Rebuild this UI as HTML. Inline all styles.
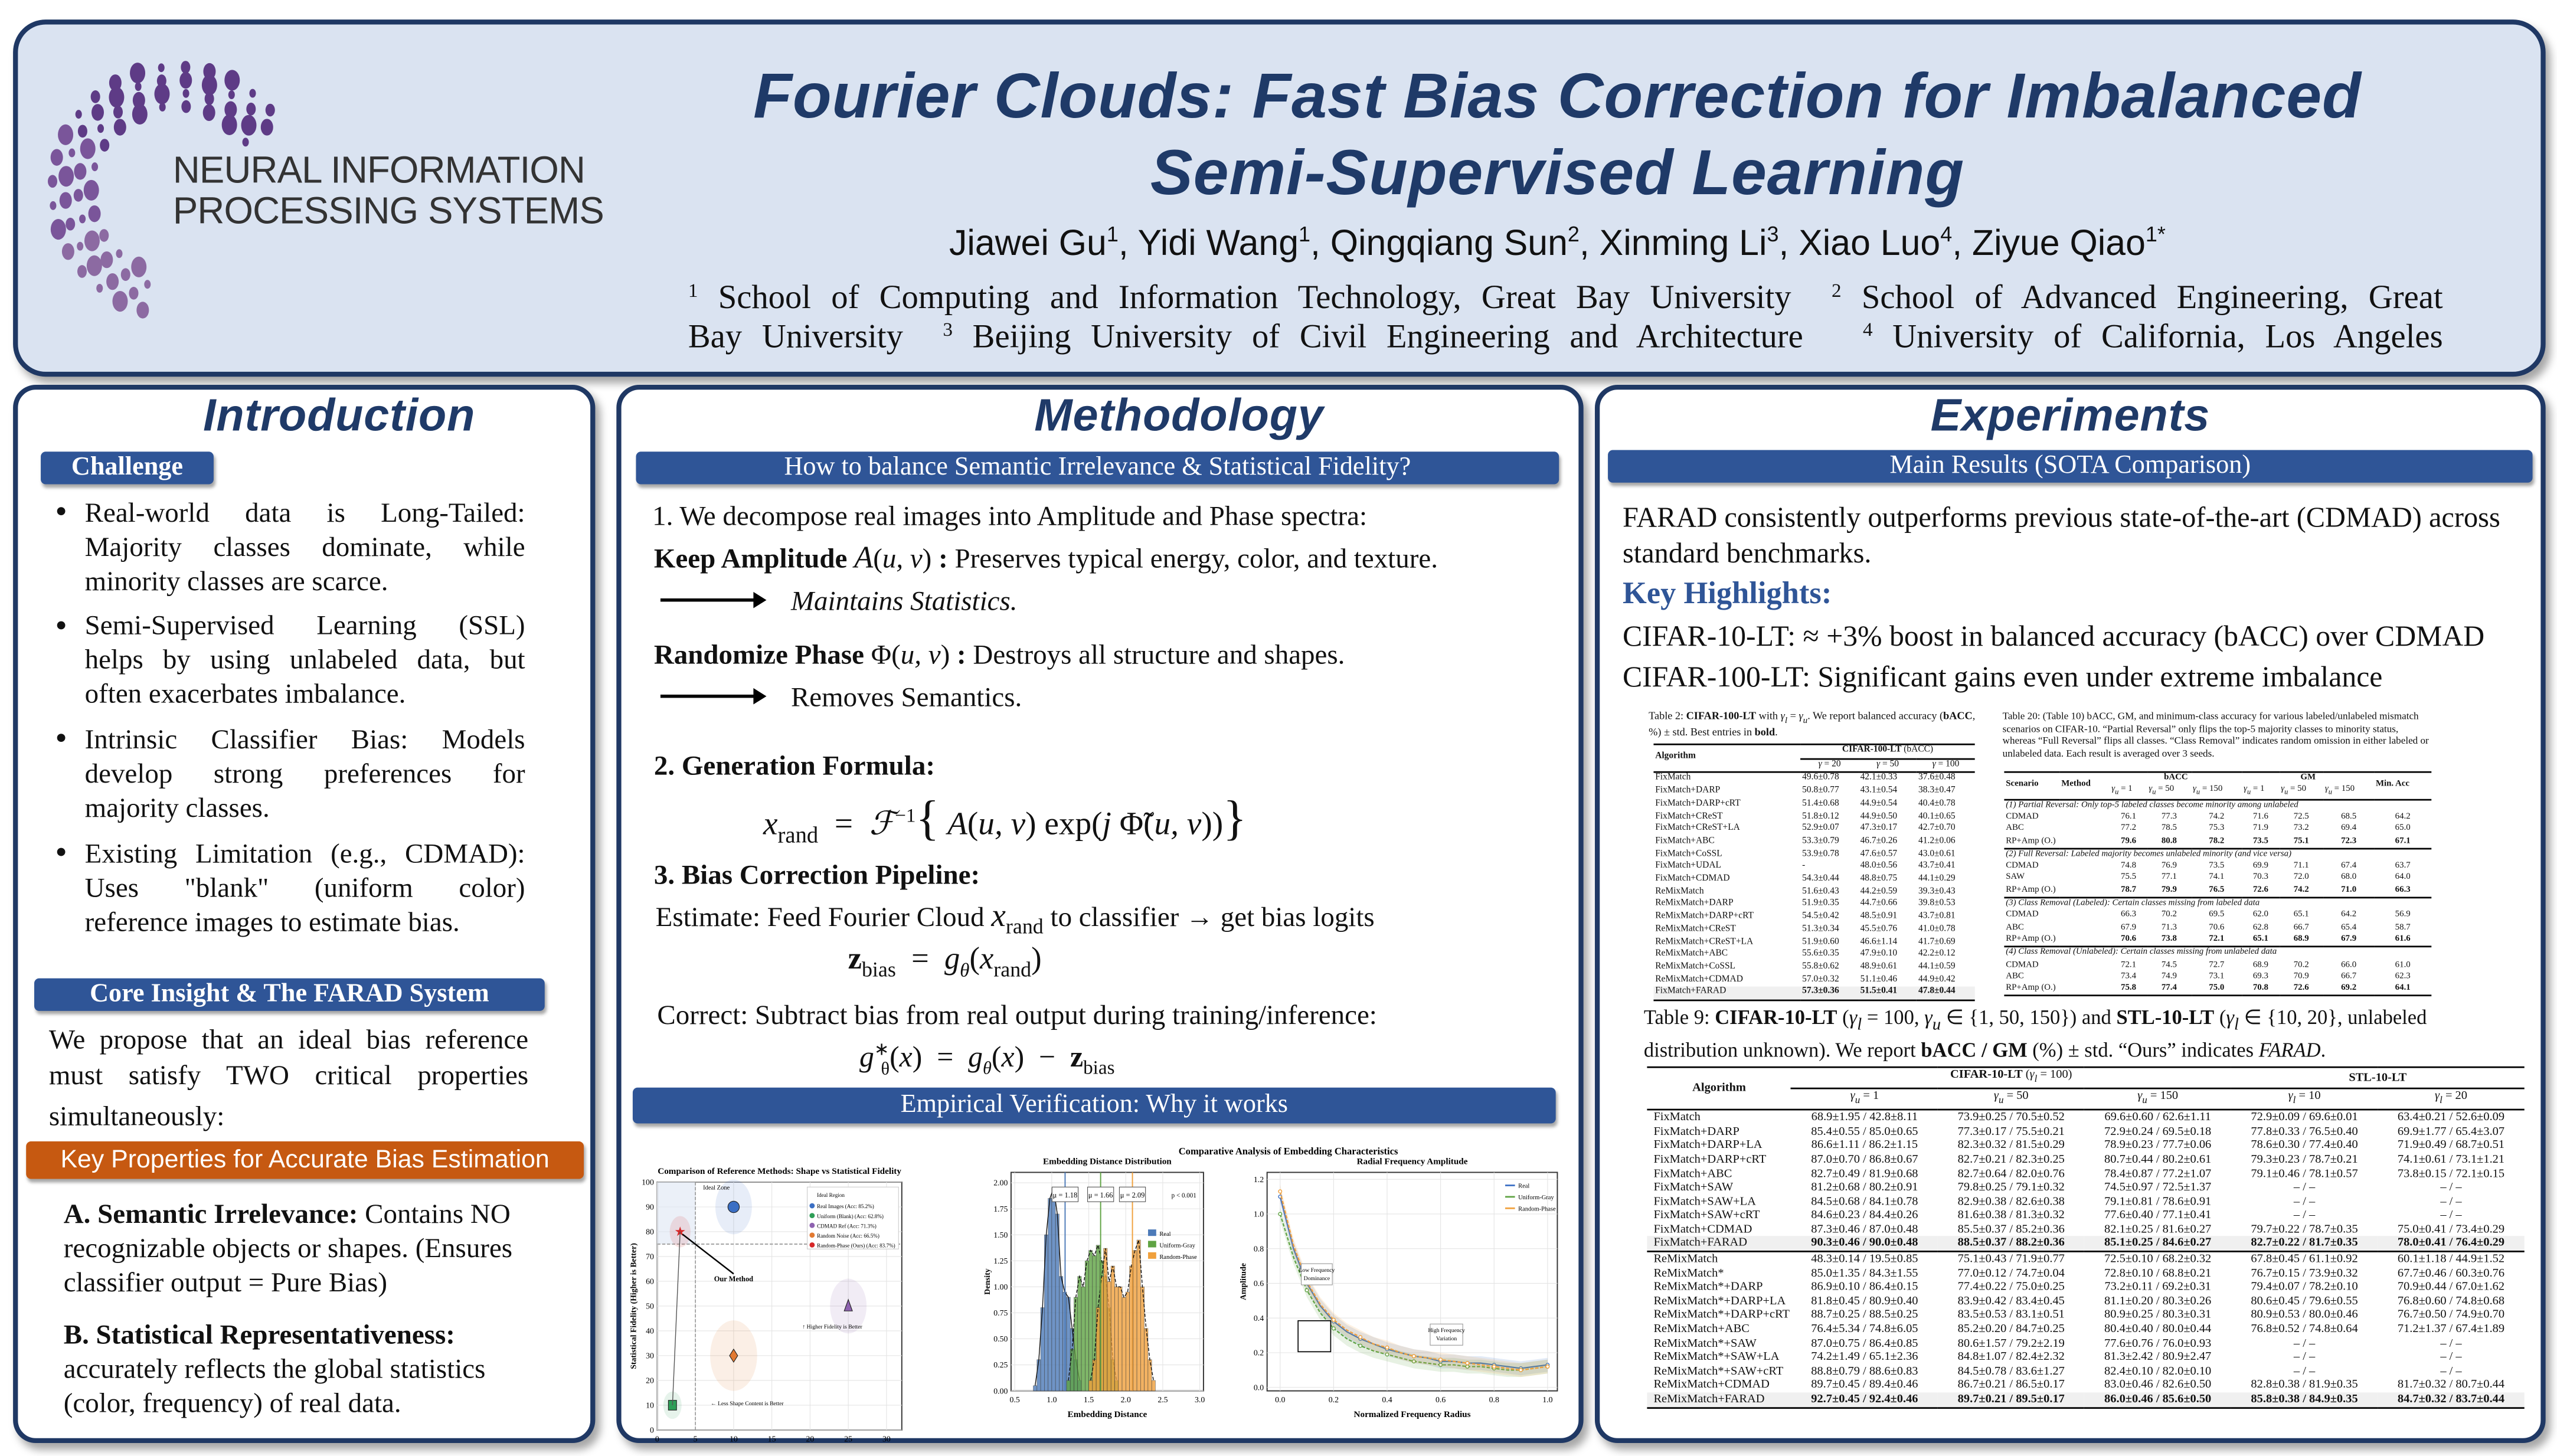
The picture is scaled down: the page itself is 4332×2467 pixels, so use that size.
<!DOCTYPE html>
<html><head><meta charset="utf-8">
<style>
html,body{margin:0;padding:0;background:#fff;}
body{width:4332px;height:2467px;overflow:hidden;position:relative;}
#poster{position:absolute;left:0;top:0;width:1568px;height:893px;transform:scale(2.76276);transform-origin:0 0;font-family:"Liberation Serif",serif;color:#111;}
.abs{position:absolute;}
.panel{position:absolute;background:#fff;border:3px solid #1f3864;border-radius:14px;box-shadow:3px 4px 5px rgba(0,0,0,.35);box-sizing:border-box;}
.stitle{position:absolute;font-family:"Liberation Sans",sans-serif;font-style:italic;font-weight:bold;color:#1f3a68;font-size:28px;text-align:center;letter-spacing:0.3px;}
.bar{position:absolute;background:#2f5597;color:#fff;font-size:16px;text-align:center;line-height:20px;border-radius:3px;box-shadow:1px 2px 2px rgba(0,0,0,.35);}
.t{position:absolute;font-size:17px;line-height:21px;white-space:nowrap;}
.j{display:block;text-align:justify;text-align-last:justify;white-space:normal;}
.dot{position:absolute;width:5px;height:5px;border-radius:50%;background:#111;}
.m{font-family:"Liberation Serif",serif;font-style:italic;}
.aff sup{font-size:12px;line-height:0;vertical-align:7px;}
table{border-collapse:collapse;}
.tb td{padding:0 1px;white-space:nowrap;}
</style></head><body>
<div id="poster">

<!-- HEADER -->
<div class="panel" style="left:8px;top:12px;width:1553px;height:219px;background:#dae3f1;border-radius:20px;"></div>
<svg class="abs" style="left:0px;top:0px" width="200" height="200" id="logoSvg"></svg>
<div class="abs" style="left:106px;top:92px;font-family:'Liberation Sans',sans-serif;font-size:23px;line-height:25px;color:#333;letter-spacing:-0.3px">NEURAL INFORMATION<br>PROCESSING SYSTEMS</div>
<div class="abs" style="left:380px;top:36px;width:1150px;text-align:center;font-family:'Liberation Sans',sans-serif;font-style:italic;font-weight:bold;font-size:39px;line-height:47px;color:#1f3a68;letter-spacing:0.3px">Fourier Clouds: Fast Bias Correction for Imbalanced<br>Semi-Supervised Learning</div>
<div class="abs" style="left:380px;top:136px;width:1150px;text-align:center;font-family:'Liberation Sans',sans-serif;font-size:22px;color:#111">Jiawei Gu<sup style="font-size:13px">1</sup>, Yidi Wang<sup style="font-size:13px">1</sup>, Qingqiang Sun<sup style="font-size:13px">2</sup>, Xinming Li<sup style="font-size:13px">3</sup>, Xiao Luo<sup style="font-size:13px">4</sup>, Ziyue Qiao<sup style="font-size:13px">1*</sup></div>
<div class="abs aff" style="left:422px;top:171px;width:1076px;font-size:20.5px;line-height:24px;"><span class="j"><sup>1</sup> School of Computing and Information Technology, Great Bay University &nbsp;<sup>2</sup> School of Advanced Engineering, Great</span><span class="j">Bay University &nbsp;<sup>3</sup> Beijing University of Civil Engineering and Architecture &nbsp;&nbsp;<sup>4</sup> University of California, Los Angeles</span></div>

<!-- INTRODUCTION -->
<div class="panel" style="left:8px;top:236px;width:357px;height:649px;"></div>
<div class="stitle" style="left:8px;top:239px;width:400px;">Introduction</div>
<div class="bar" style="left:25px;top:277px;width:106px;font-weight:bold;font-size:16px;">Challenge</div>
<div class="dot" style="left:35px;top:311px"></div>
<div class="t" style="left:52px;top:304px;width:270px"><span class="j">Real-world data is Long-Tailed:</span><span class="j">Majority classes dominate, while</span><span>minority classes are scarce.</span></div>
<div class="dot" style="left:35px;top:381px"></div>
<div class="t" style="left:52px;top:373px;width:270px"><span class="j">Semi-Supervised Learning (SSL)</span><span class="j">helps by using unlabeled data, but</span><span>often exacerbates imbalance.</span></div>
<div class="dot" style="left:35px;top:450px"></div>
<div class="t" style="left:52px;top:443px;width:270px"><span class="j">Intrinsic Classifier Bias: Models</span><span class="j">develop strong preferences for</span><span>majority classes.</span></div>
<div class="dot" style="left:35px;top:520px"></div>
<div class="t" style="left:52px;top:513px;width:270px"><span class="j">Existing Limitation (e.g., CDMAD):</span><span class="j">Uses "blank" (uniform color)</span><span>reference images to estimate bias.</span></div>
<div class="bar" style="left:21px;top:600px;width:313px;font-weight:bold;font-size:16px;">Core Insight &amp; The FARAD System</div>
<div class="t" style="left:30px;top:627px;width:294px;line-height:22px"><span class="j">We propose that an ideal bias reference</span><span class="j">must satisfy TWO critical properties</span><span style="line-height:28px">simultaneously:</span></div>
<div class="bar" style="left:16px;top:700px;width:342px;height:23px;line-height:23px;background:#c65911;font-family:'Liberation Sans',sans-serif;font-size:15.5px;">Key Properties for Accurate Bias Estimation</div>
<div class="t" style="left:39px;top:734px;width:291px"><span><b>A. Semantic Irrelevance:</b> Contains NO</span><br><span>recognizable objects or shapes. (Ensures</span><br><span>classifier output = Pure Bias)</span></div>
<div class="t" style="left:39px;top:808px;width:291px"><span><b>B. Statistical Representativeness:</b></span><br><span>accurately reflects the global statistics</span><br><span>(color, frequency) of real data.</span></div>

<!-- METHODOLOGY -->
<div class="panel" style="left:378px;top:236px;width:593px;height:649px;"></div>
<div class="stitle" style="left:378px;top:239px;width:690px;">Methodology</div>
<div class="bar" style="left:390px;top:277px;width:566px;">How to balance Semantic Irrelevance &amp; Statistical Fidelity?</div>
<div class="t" style="left:400px;top:306px">1. We decompose real images into Amplitude and Phase spectra:</div>
<div class="t" style="left:401px;top:332px"><b>Keep Amplitude</b> <span class="m" style="font-size:19px">A</span>(<span class="m">u, v</span>) <b>:</b> Preserves typical energy, color, and texture.</div>
<div class="abs" style="left:405px;top:367px;width:60px;height:2px;background:#000"></div><div class="abs" style="left:462px;top:363px;width:0;height:0;border-left:8px solid #000;border-top:5px solid transparent;border-bottom:5px solid transparent"></div>
<div class="t" style="left:485px;top:358px;font-style:italic">Maintains Statistics.</div>
<div class="t" style="left:401px;top:391px"><b>Randomize Phase</b> Φ(<span class="m">u, v</span>) <b>:</b> Destroys all structure and shapes.</div>
<div class="abs" style="left:405px;top:426px;width:60px;height:2px;background:#000"></div><div class="abs" style="left:462px;top:422px;width:0;height:0;border-left:8px solid #000;border-top:5px solid transparent;border-bottom:5px solid transparent"></div>
<div class="t" style="left:485px;top:417px">Removes Semantics.</div>
<div class="t" style="left:401px;top:459px"><b>2. Generation Formula:</b></div>
<div class="t" style="left:468px;top:485px;font-size:20px;line-height:30px"><span class="m">x</span><sub style="font-size:14px">rand</sub> &nbsp;= &nbsp;<span class="m">ℱ</span><sup style="font-size:12px">−1</sup><span style="font-size:30px">{</span> <span class="m">A</span>(<span class="m">u, v</span>) exp(<span class="m">j</span> Φ̃(<span class="m">u, v</span>))<span style="font-size:30px">}</span></div>
<div class="t" style="left:401px;top:526px"><b>3. Bias Correction Pipeline:</b></div>
<div class="t" style="left:402px;top:552px">Estimate: Feed Fourier Cloud <span class="m" style="font-size:20px">x</span><sub style="font-size:13px">rand</sub> to classifier → get bias logits</div>
<div class="t" style="left:520px;top:578px;font-size:19px"><b>z</b><sub style="font-size:13px">bias</sub> &nbsp;= &nbsp;<span class="m">g<sub style="font-size:12px">θ</sub></span>(<span class="m">x</span><sub style="font-size:13px">rand</sub>)</div>
<div class="t" style="left:403px;top:612px">Correct: Subtract bias from real output during training/inference:</div>
<div class="t" style="left:527px;top:634px;font-size:18px"><span class="m">g</span><sup style="font-size:11px">∗</sup><sub style="font-size:11px;margin-left:-5px">θ</sub>(<span class="m">x</span>) &nbsp;= &nbsp;<span class="m">g<sub style="font-size:11px">θ</sub></span>(<span class="m">x</span>) &nbsp;− &nbsp;<b>z</b><sub style="font-size:12px">bias</sub></div>
<div class="bar" style="left:388px;top:667px;width:566px;height:22px;line-height:22px">Empirical Verification: Why it works</div>

<svg class="abs" id="charts" style="left:385px;top:695px" width="580" height="190" font-family="Liberation Serif, serif"></svg>

<!-- EXPERIMENTS -->
<div class="panel" style="left:978px;top:236px;width:583px;height:649px;"></div>
<div class="stitle" style="left:978px;top:239px;width:583px;">Experiments</div>
<div class="bar" style="left:986px;top:276px;width:567px;">Main Results (SOTA Comparison)</div>
<div class="t" style="left:995px;top:306px;font-size:17.5px;line-height:22px">FARAD consistently outperforms previous state-of-the-art (CDMAD) across<br>standard benchmarks.</div>
<div class="t" style="left:995px;top:354px;font-size:19px;font-weight:bold;color:#2f5597">Key Highlights:</div>
<div class="t" style="left:995px;top:380px;font-size:18px">CIFAR-10-LT: ≈ +3% boost in balanced accuracy (bACC) over CDMAD</div>
<div class="t" style="left:995px;top:405px;font-size:18px">CIFAR-100-LT: Significant gains even under extreme imbalance</div>

<div class="abs" style="left:1011px;top:436px;width:205px;font-size:6.6px;line-height:8px">Table 2: <b>CIFAR-100-LT</b> with <i>γ<sub>l</sub></i> = <i>γ<sub>u</sub></i>. We report balanced accuracy (<b>bACC</b>, %) ± std. Best entries in <b>bold</b>.</div>
<div class="abs" id="t2" style="left:1014px;top:456px;width:197px"></div>
<div class="abs" style="left:1228px;top:436px;width:262px;font-size:6.2px;line-height:7.6px">Table 20: (Table 10) bACC, GM, and minimum-class accuracy for various labeled/unlabeled mismatch scenarios on CIFAR-10. “Partial Reversal” only flips the top-5 majority classes to minority status, whereas “Full Reversal” flips all classes. “Class Removal” indicates random omission in either labeled or unlabeled data. Each result is averaged over 3 seeds.</div>
<div class="abs" id="t20" style="left:1229px;top:473px;width:262px"></div>
<div class="abs" style="left:1008px;top:617px;width:540px;font-size:12.5px;line-height:14px">Table 9: <b>CIFAR-10-LT</b> (<i>γ<sub>l</sub></i> = 100, <i>γ<sub>u</sub></i> ∈ {1, 50, 150}) and <b>STL-10-LT</b> (<i>γ<sub>l</sub></i> ∈ {10, 20}, unlabeled distribution unknown). We report <b>bACC / GM</b> (%) ± std. “Ours” indicates <i>FARAD</i>.</div>
<div class="abs" id="t9" style="left:1010px;top:654px;width:538px"></div>

</div>

<script>
// ---------- logo ----------
(function(){
  const s=document.getElementById('logoSvg');const ns='http://www.w3.org/2000/svg';
  const cx=108,cy=117;
  for(let band=0;band<4;band++){
    const r=52+band*8;
    const cnt=14+band*2;
    for(let i=0;i<cnt;i++){
      const f=(i+(band%2)*0.5)/cnt;
      const deg=35+225*f;
      const a=deg*Math.PI/180;
      const c=document.createElementNS(ns,'ellipse');
      c.setAttribute('cx',cx+r*Math.cos(a));c.setAttribute('cy',cy-r*Math.sin(a));
      const sz=2+((i*7+band*3)%4)*0.9;
      c.setAttribute('rx',sz);c.setAttribute('ry',sz*1.35);
      c.setAttribute('fill',deg<150?'#5e3b86':(deg<200?'#7a559a':'#8c6aa2'));
      
      
      s.appendChild(c);
    }
  }
})();

// ---------- tables ----------
const t2Rows=[["FixMatch","49.6±0.78","42.1±0.33","37.6±0.48"],["FixMatch+DARP","50.8±0.77","43.1±0.54","38.3±0.47"],["FixMatch+DARP+cRT","51.4±0.68","44.9±0.54","40.4±0.78"],["FixMatch+CReST","51.8±0.12","44.9±0.50","40.1±0.65"],["FixMatch+CReST+LA","52.9±0.07","47.3±0.17","42.7±0.70"],["FixMatch+ABC","53.3±0.79","46.7±0.26","41.2±0.06"],["FixMatch+CoSSL","53.9±0.78","47.6±0.57","43.0±0.61"],["FixMatch+UDAL","-","48.0±0.56","43.7±0.41"],["FixMatch+CDMAD","54.3±0.44","48.8±0.75","44.1±0.29"],["ReMixMatch","51.6±0.43","44.2±0.59","39.3±0.43"],["ReMixMatch+DARP","51.9±0.35","44.7±0.66","39.8±0.53"],["ReMixMatch+DARP+cRT","54.5±0.42","48.5±0.91","43.7±0.81"],["ReMixMatch+CReST","51.3±0.34","45.5±0.76","41.0±0.78"],["ReMixMatch+CReST+LA","51.9±0.60","46.6±1.14","41.7±0.69"],["ReMixMatch+ABC","55.6±0.35","47.9±0.10","42.2±0.12"],["ReMixMatch+CoSSL","55.8±0.62","48.9±0.61","44.1±0.59"],["ReMixMatch+CDMAD","57.0±0.32","51.1±0.46","44.9±0.42"],["FixMatch+FARAD","57.3±0.36","51.5±0.41","47.8±0.44"]];
const t20Groups=["(1) Partial Reversal: Only top-5 labeled classes become minority among unlabeled","(2) Full Reversal: Labeled majority becomes unlabeled minority (and vice versa)","(3) Class Removal (Labeled): Certain classes missing from labeled data","(4) Class Removal (Unlabeled): Certain classes missing from unlabeled data"];
const t20Rows=[[["CDMAD","76.1","77.3","74.2","71.6","72.5","68.5","64.2"],["ABC","77.2","78.5","75.3","71.9","73.2","69.4","65.0"],["RP+Amp (O.)","79.6","80.8","78.2","73.5","75.1","72.3","67.1"]],[["CDMAD","74.8","76.9","73.5","69.9","71.1","67.4","63.7"],["SAW","75.5","77.1","74.1","70.3","72.0","68.0","64.0"],["RP+Amp (O.)","78.7","79.9","76.5","72.6","74.2","71.0","66.3"]],[["CDMAD","66.3","70.2","69.5","62.0","65.1","64.2","56.9"],["ABC","67.9","71.3","70.6","62.8","66.7","65.4","58.7"],["RP+Amp (O.)","70.6","73.8","72.1","65.1","68.9","67.9","61.6"]],[["CDMAD","72.1","74.5","72.7","68.9","70.2","66.0","61.0"],["ABC","73.4","74.9","73.1","69.3","70.9","66.7","62.3"],["RP+Amp (O.)","75.8","77.4","75.0","70.8","72.6","69.2","64.1"]]];
const t9Rows=[["FixMatch","68.9±1.95 / 42.8±8.11","73.9±0.25 / 70.5±0.52","69.6±0.60 / 62.6±1.11","72.9±0.09 / 69.6±0.01","63.4±0.21 / 52.6±0.09"],["FixMatch+DARP","85.4±0.55 / 85.0±0.65","77.3±0.17 / 75.5±0.21","72.9±0.24 / 69.5±0.18","77.8±0.33 / 76.5±0.40","69.9±1.77 / 65.4±3.07"],["FixMatch+DARP+LA","86.6±1.11 / 86.2±1.15","82.3±0.32 / 81.5±0.29","78.9±0.23 / 77.7±0.06","78.6±0.30 / 77.4±0.40","71.9±0.49 / 68.7±0.51"],["FixMatch+DARP+cRT","87.0±0.70 / 86.8±0.67","82.7±0.21 / 82.3±0.25","80.7±0.44 / 80.2±0.61","79.3±0.23 / 78.7±0.21","74.1±0.61 / 73.1±1.21"],["FixMatch+ABC","82.7±0.49 / 81.9±0.68","82.7±0.64 / 82.0±0.76","78.4±0.87 / 77.2±1.07","79.1±0.46 / 78.1±0.57","73.8±0.15 / 72.1±0.15"],["FixMatch+SAW","81.2±0.68 / 80.2±0.91","79.8±0.25 / 79.1±0.32","74.5±0.97 / 72.5±1.37","– / –","– / –"],["FixMatch+SAW+LA","84.5±0.68 / 84.1±0.78","82.9±0.38 / 82.6±0.38","79.1±0.81 / 78.6±0.91","– / –","– / –"],["FixMatch+SAW+cRT","84.6±0.23 / 84.4±0.26","81.6±0.38 / 81.3±0.32","77.6±0.40 / 77.1±0.41","– / –","– / –"],["FixMatch+CDMAD","87.3±0.46 / 87.0±0.48","85.5±0.37 / 85.2±0.36","82.1±0.25 / 81.6±0.27","79.7±0.22 / 78.7±0.35","75.0±0.41 / 73.4±0.29"],["FixMatch+FARAD","90.3±0.46 / 90.0±0.48","88.5±0.37 / 88.2±0.36","85.1±0.25 / 84.6±0.27","82.7±0.22 / 81.7±0.35","78.0±0.41 / 76.4±0.29"],["ReMixMatch","48.3±0.14 / 19.5±0.85","75.1±0.43 / 71.9±0.77","72.5±0.10 / 68.2±0.32","67.8±0.45 / 61.1±0.92","60.1±1.18 / 44.9±1.52"],["ReMixMatch*","85.0±1.35 / 84.3±1.55","77.0±0.12 / 74.7±0.04","72.8±0.10 / 68.8±0.21","76.7±0.15 / 73.9±0.32","67.7±0.46 / 60.3±0.76"],["ReMixMatch*+DARP","86.9±0.10 / 86.4±0.15","77.4±0.22 / 75.0±0.25","73.2±0.11 / 69.2±0.31","79.4±0.07 / 78.2±0.10","70.9±0.44 / 67.0±1.62"],["ReMixMatch*+DARP+LA","81.8±0.45 / 80.9±0.40","83.9±0.42 / 83.4±0.45","81.1±0.20 / 80.3±0.26","80.6±0.45 / 79.6±0.55","76.8±0.60 / 74.8±0.68"],["ReMixMatch*+DARP+cRT","88.7±0.25 / 88.5±0.25","83.5±0.53 / 83.1±0.51","80.9±0.25 / 80.3±0.31","80.9±0.53 / 80.0±0.46","76.7±0.50 / 74.9±0.70"],["ReMixMatch+ABC","76.4±5.34 / 74.8±6.05","85.2±0.20 / 84.7±0.25","80.4±0.40 / 80.0±0.44","76.8±0.52 / 74.8±0.64","71.2±1.37 / 67.4±1.89"],["ReMixMatch*+SAW","87.0±0.75 / 86.4±0.85","80.6±1.57 / 79.2±2.19","77.6±0.76 / 76.0±0.93","– / –","– / –"],["ReMixMatch*+SAW+LA","74.2±1.49 / 65.1±2.36","84.8±1.07 / 82.4±2.32","81.3±2.42 / 80.9±2.47","– / –","– / –"],["ReMixMatch*+SAW+cRT","88.8±0.79 / 88.6±0.83","84.5±0.78 / 83.6±1.27","82.4±0.10 / 82.0±0.10","– / –","– / –"],["ReMixMatch+CDMAD","89.7±0.45 / 89.4±0.46","86.7±0.21 / 86.5±0.17","83.0±0.46 / 82.6±0.50","82.8±0.38 / 81.9±0.35","81.7±0.32 / 80.7±0.44"],["ReMixMatch+FARAD","92.7±0.45 / 92.4±0.46","89.7±0.21 / 89.5±0.17","86.0±0.46 / 85.6±0.50","85.8±0.38 / 84.9±0.35","84.7±0.32 / 83.7±0.44"]];

(function(){
  let h='<table class="tb" style="width:100%;font-size:5.6px;line-height:7.7px;border-top:1px solid #000;border-bottom:1px solid #000"><tr><td rowspan="2" style="font-weight:bold;vertical-align:middle">Algorithm</td><td colspan="3" style="text-align:center;border-bottom:0.5px solid #000"><b>CIFAR-100-LT</b> (bACC)</td></tr><tr style="border-bottom:0.7px solid #000"><td style="text-align:center"><i>γ</i> = 20</td><td style="text-align:center"><i>γ</i> = 50</td><td style="text-align:center"><i>γ</i> = 100</td></tr>';
  t2Rows.forEach((r,i)=>{const last=i===t2Rows.length-1;h+='<tr'+(last?' style="background:#f0f0f0;font-weight:bold"':'')+'><td'+(last?' style="font-weight:normal"':'')+'>'+r[0]+'</td><td>'+r[1]+'</td><td>'+r[2]+'</td><td>'+r[3]+'</td></tr>';});
  h+='</table>';document.getElementById('t2').innerHTML=h;
  let g='<table class="tb" style="width:100%;font-size:5.4px;line-height:7.3px;border-top:1px solid #000;border-bottom:1px solid #000"><tr><td rowspan="2" style="font-weight:bold">Scenario</td><td rowspan="2" style="font-weight:bold">Method</td><td colspan="3" style="text-align:center;font-weight:bold">bACC</td><td colspan="3" style="text-align:center;font-weight:bold">GM</td><td rowspan="2" style="font-weight:bold">Min. Acc</td></tr><tr><td><i>γ<sub>u</sub></i> = 1</td><td><i>γ<sub>u</sub></i> = 50</td><td><i>γ<sub>u</sub></i> = 150</td><td><i>γ<sub>u</sub></i> = 1</td><td><i>γ<sub>u</sub></i> = 50</td><td><i>γ<sub>u</sub></i> = 150</td></tr>';
  t20Groups.forEach((gr,gi)=>{g+='<tr style="border-top:0.8px solid #000"><td colspan="9" style="font-style:italic">'+gr+'</td></tr>';t20Rows[gi].forEach((r,ri)=>{const b=ri===2;g+='<tr'+(b?' style="font-weight:bold"':'')+'><td colspan="2" style="font-weight:normal">'+r[0]+'</td>';for(let k=1;k<8;k++)g+='<td style="text-align:center">'+r[k]+'</td>';g+='</tr>';});});
  g+='</table>';document.getElementById('t20').innerHTML=g;
  let t='<table class="tb" style="width:100%;font-size:7.4px;line-height:8.6px;border-top:1.2px solid #000;border-bottom:1.2px solid #000"><tr><td rowspan="2" style="font-weight:bold;text-align:center;width:85px">Algorithm</td><td colspan="3" style="text-align:center;border-bottom:0.6px solid #000"><b>CIFAR-10-LT</b> (<i>γ<sub>l</sub></i> = 100)</td><td colspan="2" style="text-align:center;border-bottom:0.6px solid #000"><b>STL-10-LT</b></td></tr><tr style="border-bottom:0.8px solid #000;height:13px"><td style="text-align:center"><i>γ<sub>u</sub></i> = 1</td><td style="text-align:center"><i>γ<sub>u</sub></i> = 50</td><td style="text-align:center"><i>γ<sub>u</sub></i> = 150</td><td style="text-align:center"><i>γ<sub>l</sub></i> = 10</td><td style="text-align:center"><i>γ<sub>l</sub></i> = 20</td></tr>';
  t9Rows.forEach((r,i)=>{const b=(i===9||i===20);t+='<tr style="'+(b?'background:#f0f0f0;font-weight:bold;':'')+(i===10?'border-top:1px solid #000;':'')+'"><td style="font-weight:normal;padding-left:4px">'+r[0]+'</td>';for(let k=1;k<6;k++)t+='<td style="text-align:center">'+r[k]+'</td>';t+='</tr>';});
  t+='</table>';document.getElementById('t9').innerHTML=t;
})();

// ---------- charts ----------
const scatterNames=["Real Images (Acc: 85.2%)","Uniform (Blank) (Acc: 62.8%)","CDMAD Ref (Acc: 71.3%)","Random Noise (Acc: 66.5%)","Random-Phase (Ours) (Acc: 83.7%)"];
const scatterShape=[10,2,25,10,3];
const scatterFidelity=[90,10,50,30,80];
const scatterTicksX=[0,5,10,15,20,25,30];
const scatterTicksY=[0,10,20,30,40,50,60,70,80,90,100];
const histRealStart=0.75, histGrayStart=1.2, histPhaseStart=1.5, histBin=0.05;
const histReal=[0.05,0.3,0.8,1.5,1.85,1.95,1.7,1.1,0.95,0.9,0.6,0.3,0.1];
const histGray=[0.1,0.4,0.9,1.1,1.0,1.25,1.35,1.3,1.4,1.25,1.1,0.8,0.3,0.1];
const histPhase=[0.1,0.3,0.8,1.1,1.37,1.05,1.2,1.0,1.0,0.9,0.95,1.2,1.35,1.45,1.0,0.6,0.3,0.1];
const histMeans=[1.18,1.66,2.09];
const histTicksX=[0.5,1.0,1.5,2.0,2.5,3.0];
const histTicksY=[0,0.25,0.5,0.75,1.0,1.25,1.5,1.75,2.0];
const freqX=[0,0.05,0.1,0.15,0.2,0.25,0.3,0.35,0.4,0.45,0.5,0.55,0.6,0.65,0.7,0.75,0.8,0.85,0.9,0.95,1.0];
const freqReal=[1.1,0.8,0.6,0.47,0.38,0.32,0.28,0.25,0.22,0.2,0.18,0.17,0.15,0.15,0.14,0.14,0.13,0.12,0.11,0.12,0.13];
const freqGray=[1.0,0.75,0.56,0.43,0.34,0.28,0.24,0.21,0.19,0.17,0.15,0.14,0.13,0.13,0.12,0.12,0.11,0.1,0.1,0.11,0.12];
const freqPhase=[1.13,0.82,0.61,0.48,0.39,0.33,0.29,0.25,0.23,0.2,0.18,0.17,0.16,0.15,0.14,0.13,0.12,0.11,0.1,0.11,0.12];
const freqTicksX=[0,0.2,0.4,0.6,0.8,1.0];
const freqTicksY=[0,0.2,0.4,0.6,0.8,1.0,1.2];

(function(){
  const svg=document.getElementById('charts');const ns='http://www.w3.org/2000/svg';
  function el(tag,attrs,name,txt){const e=document.createElementNS(ns,tag);for(const k in attrs)e.setAttribute(k,attrs[k]);
    
    
    if(txt!==undefined)e.textContent=txt;svg.appendChild(e);return e;}
  function axes(x0,y0,w,h,sx,sy,tx,ty,fmtx,fmty,xl,yl,title){
    el('rect',{x:x0,y:y0,width:w,height:h,fill:'#fff',stroke:'#333','stroke-width':0.7},'plot-frame');
    tx.forEach(v=>{const X=sx(v);el('line',{x1:X,x2:X,y1:y0,y2:y0+h,stroke:'#e4e4e4','stroke-width':0.4},'x-gridline');el('text',{x:X,y:y0+h+7,'font-size':5,'text-anchor':'middle'},'x-tick-label',fmtx(v));});
    ty.forEach(v=>{const Y=sy(v);el('line',{x1:x0,x2:x0+w,y1:Y,y2:Y,stroke:'#e4e4e4','stroke-width':0.4},'y-gridline');el('text',{x:x0-2,y:Y+1.7,'font-size':5,'text-anchor':'end'},'y-tick-label',fmty(v));});
    el('text',{x:x0+w/2,y:y0+h+16,'font-size':5.5,'text-anchor':'middle','font-weight':'bold'},'x-axis-title',xl);
    el('text',{x:0,y:0,'font-size':5,'text-anchor':'middle','font-weight':'bold',transform:'translate('+(x0-13)+','+(y0+h/2)+') rotate(-90)'},'y-axis-title',yl);
    el('text',{x:x0+w/2,y:y0-5,'font-size':5.5,'text-anchor':'middle','font-weight':'bold'},'chart-title',title);
  }
  const c1={x:18,y:30,w:150,h:152};
  const s1x=v=>c1.x+c1.w*v/32, s1y=v=>c1.y+c1.h*(1-v/100);
  axes(c1.x,c1.y,c1.w,c1.h,s1x,s1y,scatterTicksX,scatterTicksY,v=>v,v=>v,'Shape Presence (Lower is Better)','Statistical Fidelity (Higher is Better)','Comparison of Reference Methods: Shape vs Statistical Fidelity');
  el('rect',{x:s1x(0),y:s1y(100),width:s1x(5)-s1x(0),height:s1y(75)-s1y(100),fill:'#dde6f3',opacity:0.6},'ideal-region');
  el('line',{x1:s1x(5),x2:s1x(5),y1:c1.y,y2:c1.y+c1.h,stroke:'#999','stroke-dasharray':'2,1','stroke-width':0.6},'threshold-x');
  el('line',{x1:c1.x,x2:c1.x+c1.w,y1:s1y(75),y2:s1y(75),stroke:'#aaa','stroke-dasharray':'2,1','stroke-width':0.8},'threshold-y');
  const cols=['#3b6fc4','#2e9e57','#8e62b0','#e27a32','#d62728'];const halo=[14,7,14,18,8];
  scatterShape.forEach((v,i)=>{const X=s1x(v),Y=s1y(scatterFidelity[i]);
    el('ellipse',{cx:X,cy:Y,rx:halo[i]*0.8,ry:halo[i]*1.2,fill:cols[i],opacity:0.12},'point-halo');
    if(i===0)el('circle',{cx:X,cy:Y,r:3.5,fill:cols[i],stroke:'#222','stroke-width':0.4},'point-real-images');
    else if(i===1)el('rect',{x:X-2.5,y:Y-3,width:5,height:6,fill:cols[i],stroke:'#222','stroke-width':0.4},'point-uniform');
    else if(i===2)el('polygon',{points:(X)+','+(Y-4)+' '+(X-2.5)+','+(Y+3)+' '+(X+2.5)+','+(Y+3),fill:cols[i],stroke:'#222','stroke-width':0.4},'point-cdmad');
    else if(i===3)el('polygon',{points:X+','+(Y-4)+' '+(X+2.5)+','+Y+' '+X+','+(Y+4)+' '+(X-2.5)+','+Y,fill:cols[i],stroke:'#222','stroke-width':0.4},'point-random-noise');
    else el('text',{x:X,y:Y+2.5,'font-size':8,'text-anchor':'middle',fill:cols[i]},'point-ours','★');
  });
  el('line',{x1:s1x(scatterShape[1]),y1:s1y(scatterFidelity[1]),x2:s1x(scatterShape[4]),y2:s1y(scatterFidelity[4]),stroke:'#555','stroke-width':0.5},'improvement-arrow');
  el('line',{x1:s1x(10),y1:s1y(63),x2:s1x(3.3),y2:s1y(79),stroke:'#000','stroke-width':0.9},'our-method-arrow');
  el('text',{x:s1x(10),y:s1y(60),'font-size':4.5,'text-anchor':'middle','font-weight':'bold'},'annotation-our-method','Our Method');
  el('text',{x:s1x(6),y:s1y(97),'font-size':3.8},'annotation-ideal-zone','Ideal Zone');
  el('text',{x:s1x(19),y:s1y(41),'font-size':3.5},'annotation-higher-fidelity','↑ Higher Fidelity is Better');
  el('text',{x:s1x(7),y:s1y(10),'font-size':3.5},'annotation-less-shape','← Less Shape Content is Better');
  el('rect',{x:c1.x+c1.w-58,y:c1.y+3,width:56,height:38,fill:'#fff',stroke:'#ccc','stroke-width':0.4},'scatter-legend-box');
  el('text',{x:c1.x+c1.w-52,y:c1.y+9,'font-size':3.3},'legend-entry','Ideal Region');
  scatterNames.forEach((n,i)=>{el('circle',{cx:c1.x+c1.w-55,cy:c1.y+14.5+i*6,r:1.6,fill:cols[i]},'legend-marker');el('text',{x:c1.x+c1.w-52,y:c1.y+16+i*6,'font-size':3.3},'legend-entry',n);});
  el('text',{x:405,y:13,'font-size':6,'text-anchor':'middle','font-weight':'bold'},'charts-super-title','Comparative Analysis of Embedding Characteristics');
  const c2={x:235,y:24,w:118,h:134};
  const s2x=v=>c2.x+c2.w*(v-0.45)/2.6, s2y=v=>c2.y+c2.h*(1-v/2.1);
  axes(c2.x,c2.y,c2.w,c2.h,s2x,s2y,histTicksX,histTicksY,v=>v.toFixed(1),v=>v.toFixed(2),'Embedding Distance','Density','Embedding Distance Distribution');
  const hc=['#4c7ab8','#5fa343','#f0a03c'];
  [[histReal,histRealStart],[histGray,histGrayStart],[histPhase,histPhaseStart]].forEach(([arr,st],k)=>{
    arr.forEach((v,i)=>{const xa=st+i*histBin;el('rect',{x:s2x(xa),y:s2y(v),width:s2x(xa+histBin)-s2x(xa),height:s2y(0)-s2y(v),fill:hc[k],opacity:0.8,stroke:'#333','stroke-width':0.2},'hist-bar');});
    let d='';arr.forEach((v,i)=>{d+=(i?'L':'M')+s2x(st+(i+0.5)*histBin)+','+s2y(v);});
    el('path',{d:d,fill:'none',stroke:'#111','stroke-width':0.5,'stroke-dasharray':k?'2,1':''},'kde-line');
  });
  histMeans.forEach((m,k)=>{el('line',{x1:s2x(m),x2:s2x(m),y1:c2.y,y2:c2.y+c2.h,stroke:hc[k],'stroke-width':0.7},'mean-line');
    el('rect',{x:s2x(m)-8,y:c2.y+9,width:16,height:9,fill:'#fff',stroke:'#555','stroke-width':0.4},'mean-label-box');
    el('text',{x:s2x(m),y:c2.y+15.5,'font-size':4.5,'text-anchor':'middle'},'mean-label','μ = '+m.toFixed(2));});
  el('text',{x:c2.x+c2.w-12,y:c2.y+15.5,'font-size':4,'text-anchor':'middle'},'p-value-label','p < 0.001');
  ['Real','Uniform-Gray','Random-Phase'].forEach((n,k)=>{el('rect',{x:c2.x+c2.w-34,y:c2.y+35+k*7,width:5,height:4,fill:hc[k]},'legend-marker');el('text',{x:c2.x+c2.w-27,y:c2.y+39+k*7,'font-size':3.8},'legend-entry',n);});
  const c3={x:392,y:24,w:178,h:134};
  const s3x=v=>c3.x+8+(c3.w-14)*v, s3y=v=>c3.y+c3.h*(1-(v+0.02)/1.26);
  axes(c3.x,c3.y,c3.w,c3.h,s3x,s3y,freqTicksX,freqTicksY,v=>v.toFixed(1),v=>v.toFixed(1),'Normalized Frequency Radius','Amplitude','Radial Frequency Amplitude');
  [[freqReal,'#3b6fc4'],[freqGray,'#5fa343'],[freqPhase,'#f0a03c']].forEach(([arr,c],k)=>{
    let d='';arr.forEach((v,i)=>{d+=(i?'L':'M')+s3x(freqX[i])+','+s3y(v);});
    let up=freqX.map((x,i)=>s3x(x)+','+s3y(arr[i]+0.04)).join(' ');let dn=freqX.slice().reverse().map((x,j)=>{const i=freqX.length-1-j;return s3x(x)+','+s3y(arr[i]-0.04);}).join(' ');
    el('polygon',{points:up+' '+dn,fill:c,opacity:0.15},'confidence-band');
    el('path',{d:d,fill:'none',stroke:c,'stroke-width':0.8,'stroke-dasharray':k?'2,1':''},'freq-line');
    arr.forEach((v,i)=>{if(i%2===0)el('circle',{cx:s3x(freqX[i]),cy:s3y(v),r:1,fill:'#fff',stroke:c,'stroke-width':0.5},'freq-marker');});
  });
  el('rect',{x:c3.x+100,y:c3.y+93,width:20,height:13,fill:'#fff',stroke:'#999','stroke-width':0.4},'annotation-high-frequency-box');
  el('text',{x:c3.x+110,y:c3.y+98,'font-size':3.5,'text-anchor':'middle'},'annotation-high-frequency','High Frequency');
  el('text',{x:c3.x+110,y:c3.y+103,'font-size':3.5,'text-anchor':'middle'},'annotation-variation','Variation');
  el('rect',{x:c3.x+21,y:c3.y+56,width:19,height:13,fill:'#fff',stroke:'#999','stroke-width':0.4},'annotation-low-frequency-box');
  el('text',{x:c3.x+30.5,y:c3.y+61,'font-size':3.5,'text-anchor':'middle'},'annotation-low-frequency','Low Frequency');
  el('text',{x:c3.x+30.5,y:c3.y+66,'font-size':3.5,'text-anchor':'middle'},'annotation-dominance','Dominance');
  el('rect',{x:c3.x+19,y:c3.y+91,width:20,height:19,fill:'#fff',stroke:'#000','stroke-width':0.6},'detail-inset');
  ['Real','Uniform-Gray','Random-Phase'].forEach((n,k)=>{el('line',{x1:c3.x+c3.w-32,x2:c3.x+c3.w-26,y1:c3.y+8+k*7,y2:c3.y+8+k*7,stroke:['#3b6fc4','#5fa343','#f0a03c'][k],'stroke-width':1},'legend-marker');el('text',{x:c3.x+c3.w-24,y:c3.y+9.5+k*7,'font-size':3.8},'legend-entry',n);});
})();
</script>
</body></html>
